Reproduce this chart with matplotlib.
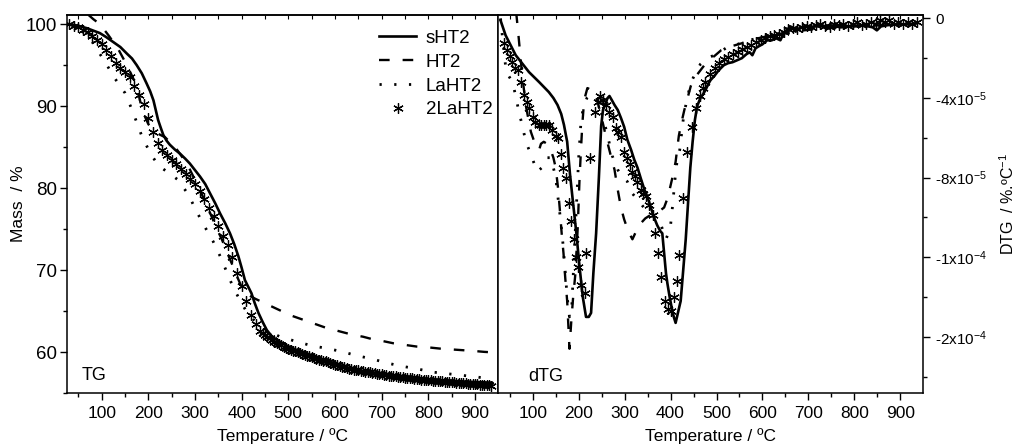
import matplotlib
matplotlib.use("Agg")
import matplotlib.pyplot as plt
from matplotlib.ticker import MultipleLocator, FixedLocator

plt.rcParams["font.family"] = ["Liberation Sans", "DejaVu Sans"]
plt.rcParams["mathtext.fontset"] = "custom"
plt.rcParams["mathtext.rm"] = "Liberation Sans"
plt.rcParams["mathtext.default"] = "regular"

# ---- TG data (mass %) ----
tg_s_t = [29, 40, 55, 68, 82, 96, 110, 125, 140, 154, 165, 175, 186, 196, 204, 211, 216, 221, 227, 232, 239, 246,
          257, 268, 279, 289, 300, 311, 322, 332, 343, 354, 365, 375, 384, 393, 400, 407, 414, 421, 428, 436, 445,
          454, 464, 475, 487, 500, 520, 546, 570, 596, 630, 668, 700, 739, 780, 811, 850, 890, 936]
tg_s_m = [100.0, 99.9, 99.7, 99.5, 99.2, 98.9, 98.4, 97.8, 97.2, 96.4, 95.8, 95.0, 94.0, 92.8, 91.8, 90.7, 89.5, 88.3,
          87.3, 86.5, 85.8, 85.3, 84.7, 84.2, 83.6, 83.0, 82.2, 81.4, 80.5, 79.4, 78.2, 76.9, 75.7, 74.5, 73.2, 71.7,
          70.3, 68.8, 68.0, 67.2, 66.0, 64.8, 63.7, 62.7, 62.0, 61.5, 61.1, 60.7, 60.2, 59.7, 59.2, 58.7, 58.1, 57.6,
          57.3, 57.0, 56.8, 56.6, 56.5, 56.4, 56.3]

tg_ht_t = [30, 50, 70, 82, 96, 115, 135, 154, 164, 175, 185, 193, 200, 210, 222, 236, 250, 260, 275, 288, 300, 315,
           330, 345, 358, 370, 382, 392, 402, 411, 420, 430, 445, 460, 475, 490, 505, 520, 535, 550, 565, 580, 600,
           620, 640, 660, 680, 700, 725, 750, 775, 800, 825, 850, 875, 900, 920, 935]
tg_ht_m = [102.8, 102.0, 101.2, 100.6, 100.0, 98.6, 97.0, 95.0, 93.8, 92.5, 90.0, 88.7, 87.8, 87.1, 86.6, 86.2, 85.4,
           84.8, 83.6, 82.4, 81.0, 79.2, 77.3, 75.3, 73.7, 72.0, 70.4, 69.0, 67.7, 67.2, 66.8, 66.5, 66.1, 65.7, 65.3,
           64.9, 64.5, 64.2, 63.9, 63.6, 63.3, 63.0, 62.7, 62.4, 62.1, 61.9, 61.6, 61.4, 61.1, 60.9, 60.7, 60.6, 60.45,
           60.35, 60.25, 60.15, 60.05, 60.0]

tg_la_t = [30, 45, 60, 80, 107, 128, 150, 164, 176, 187, 205, 221, 240, 264, 286, 304, 321, 339, 354, 368, 382, 396,
           410, 425, 440, 460, 482, 518, 550, 580, 614, 646, 679, 711, 743, 775, 807, 839, 871, 904, 935]
tg_la_m = [100.0, 99.6, 99.0, 97.8, 95.4, 93.4, 91.6, 89.7, 87.9, 86.2, 84.2, 82.8, 82.0, 81.0, 79.2, 77.1, 75.3,
           73.5, 71.7, 69.8, 67.9, 66.4, 65.0, 64.0, 63.3, 62.5, 61.9, 61.3, 60.8, 60.5, 60.1, 59.6, 59.2, 58.7, 58.3,
           58.0, 57.6, 57.4, 57.2, 57.0, 56.7]

# 2LaHT2 points: every 10 ºC up to 430, every 5 ºC after
tg_2la_t = list(range(30, 440, 10)) + list(range(440, 940, 5))
tg_2la_m = [100.0, 99.8, 99.6, 99.3, 99.0, 98.6, 98.1, 97.6, 96.8, 96.1, 95.3, 94.7, 94.2, 93.6, 92.5, 91.4, 90.2,
            88.6, 86.8, 85.5, 84.6, 84.0, 83.4, 82.9, 82.3, 81.7, 81.1, 80.5, 79.6, 78.7, 77.6, 76.6, 75.4, 74.2,
            73.1, 71.6, 69.7, 68.1, 66.3, 64.6, 63.4,
            62.6, 62.35, 62.1, 61.9, 61.7, 61.5, 61.3, 61.15, 61.0, 60.85, 60.7, 60.55, 60.4, 60.3, 60.2, 60.1,
            60.0, 59.9, 59.8, 59.7,
            59.6, 59.5, 59.4, 59.3, 59.2, 59.1, 59.0, 58.95, 58.9, 58.8, 58.7, 58.6, 58.5, 58.4, 58.3, 58.25,
            58.2, 58.1, 58.0, 57.95,
            57.9, 57.85, 57.8, 57.75, 57.7, 57.65, 57.6, 57.55, 57.5, 57.45, 57.4, 57.35, 57.3, 57.25, 57.2,
            57.15, 57.1, 57.08, 57.05, 57.02,
            57.0, 56.95, 56.9, 56.88, 56.85, 56.82, 56.8, 56.75, 56.7, 56.68, 56.65, 56.62, 56.6, 56.58, 56.55,
            56.52, 56.5, 56.48, 56.45, 56.42,
            56.4, 56.38, 56.35, 56.32, 56.3, 56.28, 56.25, 56.22, 56.2, 56.18, 56.15, 56.12, 56.1, 56.08, 56.05,
            56.03, 56.0, 56.0, 55.98, 55.95]

# ---- DTG data (units of 1e-5 %/ºC) ----
dtg_s_t = [30, 41, 52, 63, 75, 92, 114, 135, 145, 154, 162, 168, 175, 181, 187, 195, 202, 209, 216, 222, 227, 232,
           238, 244, 249, 253, 258, 263, 267, 272, 278, 285, 292, 299, 306, 314, 321, 328, 336, 343, 350, 357, 364,
           371, 378, 382, 386, 390, 393, 398, 403, 407, 411, 416, 422, 427, 433, 438, 443, 448, 453, 458, 465, 471,
           476, 482, 487, 495, 505, 516, 525, 535, 545, 555, 565, 572, 578, 585, 592, 600, 610, 620, 630, 639, 645,
           652, 661, 670, 680, 690, 700, 715, 733, 750, 770, 790, 810, 830, 840, 849, 858, 870, 885, 900, 915, 936]
dtg_s_v = [-0.1, -0.85, -1.35, -1.85, -2.2, -2.7, -3.2, -3.7, -4.0, -4.35, -4.8, -5.35, -6.2, -7.8, -9.1, -10.8,
           -12.5, -14.0, -15.0, -15.0, -14.8, -12.8, -10.8, -8.0, -5.4, -4.6, -4.3, -4.0, -3.9, -4.1, -4.35, -4.6,
           -5.0, -5.45, -6.1, -6.6, -7.1, -7.5, -8.1, -8.6, -9.0, -9.5, -10.0, -10.4, -10.7, -10.8, -11.8, -12.8,
           -13.3, -14.0, -14.6, -15.0, -15.3, -14.8, -14.2, -12.8, -11.1, -9.3, -7.5, -6.2, -5.1, -4.4, -4.0, -3.8,
           -3.6, -3.3, -3.1, -2.9, -2.6, -2.35, -2.25, -2.2, -2.1, -2.0, -1.8, -1.7, -1.85, -1.5, -1.4, -1.3, -1.1,
           -1.1, -1.0, -1.1, -0.8, -0.6, -0.4, -0.6, -0.5, -0.4, -0.45, -0.4, -0.4, -0.35, -0.45, -0.4, -0.35, -0.4,
           -0.45, -0.6, -0.4, -0.35, -0.3, -0.3, -0.3, -0.25]

dtg_ht_t = [64, 68, 72, 76, 81, 86, 91, 96, 102, 108, 114, 118, 124, 131, 139, 145, 150, 155, 159, 163, 167, 171,
            175, 180, 184, 188, 193, 198, 202, 205, 208, 212, 219, 228, 237, 250, 260, 270, 278, 285, 292, 299, 308,
            317, 325, 335, 345, 355, 365, 375, 386, 394, 401, 406, 411, 418, 424, 430, 437, 444, 452, 462, 472, 482,
            495, 510, 525, 540, 555, 570, 590, 610, 630, 650, 670, 690, 710, 730, 760, 790, 820, 850, 880, 910, 935]
dtg_ht_v = [0.3, -0.6, -1.6, -2.6, -3.6, -4.5, -5.1, -5.7, -6.1, -6.4, -6.6, -6.3, -6.2, -6.3, -6.6, -7.0, -7.5,
            -8.5, -9.6, -10.8, -11.8, -13.1, -14.2, -16.6, -15.2, -14.0, -12.8, -10.5, -8.0, -6.6, -5.3, -4.1, -3.5,
            -3.6, -3.8, -5.0, -6.0, -6.9, -7.6, -8.6, -9.5, -10.1, -10.7, -11.1, -10.7, -10.3, -10.05, -9.9, -9.8,
            -9.7, -9.5, -9.0, -8.3, -7.8, -7.2, -5.9, -5.2, -4.6, -4.0, -3.4, -3.0, -2.7, -2.4, -2.1, -1.9, -1.6,
            -1.45, -1.35, -1.25, -1.1, -1.0, -0.9, -0.8, -0.75, -0.7, -0.6, -0.55, -0.5, -0.45, -0.4, -0.4, -0.35,
            -0.3, -0.3, -0.25]

dtg_la_t = [30, 34, 41, 48, 56, 63, 70, 78, 85, 92, 100, 110, 120, 130, 140, 150, 160, 165, 170, 175, 180, 185, 190,
            195, 200, 205, 210, 218, 228, 238, 250, 260, 273, 285, 295, 306, 317, 324, 335, 345, 355, 365, 378, 390,
            395, 400, 404, 410, 415, 420, 428, 436, 445, 455, 465, 480, 500, 520, 540, 552, 570, 590, 610, 630, 650,
            680, 720, 760, 790, 820, 850, 880, 910, 935]
dtg_la_v = [0.0, -0.9, -2.4, -2.9, -3.2, -3.9, -4.7, -5.45, -6.2, -6.6, -7.1, -7.7, -7.5, -7.0, -7.0, -8.0, -10.0,
            -11.1, -12.5, -14.0, -15.0, -14.5, -12.0, -9.5, -7.0, -5.2, -4.5, -4.0, -3.8, -4.0, -4.8, -5.6, -6.9,
            -7.6, -8.0, -8.2, -8.8, -9.0, -9.3, -9.6, -9.8, -10.0, -10.3, -11.1, -10.8, -10.4, -9.5, -8.0, -7.0,
            -6.6, -5.0, -4.0, -3.2, -2.7, -2.3, -2.0, -1.8, -1.5, -1.35, -1.25, -1.1, -1.0, -0.9, -0.8, -0.8, -0.6,
            -0.5, -0.4, -0.4, -0.35, -0.3, -0.3, -0.25, -0.25]

dtg_2la_t = [38, 45, 51, 56, 62, 67, 74, 81, 87, 93, 100, 106, 113, 119, 124, 129, 135, 143, 150, 155, 161, 167, 172,
             179, 184, 189, 194, 198, 206, 213, 217, 225, 235, 241, 247, 253, 259, 266, 274, 281, 286, 292, 299, 306,
             312, 317, 323, 328, 335, 341, 346, 353, 361, 367, 372, 380, 388, 395, 401, 408, 413, 419, 427, 436, 446,
             455, 464, 470, 476, 486, 496, 506, 516, 526, 536, 546, 556, 566, 576, 586, 596, 606, 616, 626, 636, 646,
             656, 666, 676, 686, 696, 706, 716, 726, 736, 746, 756, 766, 776, 786, 796, 806, 816, 826, 836, 846, 856,
             866, 876, 886, 896, 906, 916, 926, 936]
dtg_2la_v = [-1.25, -1.6, -1.9, -2.2, -2.5, -2.6, -3.2, -3.85, -4.2, -4.5, -4.95, -5.2, -5.35, -5.35, -5.35, -5.35,
             -5.35, -5.6, -5.9, -6.0, -6.8, -7.5, -8.0, -9.3, -10.2, -11.1, -12.0, -12.5, -13.4, -13.8, -11.8, -7.0,
             -4.7, -4.2, -3.9, -4.1, -4.35, -4.7, -4.95, -5.5, -5.7, -5.95, -6.7, -7.0, -7.3, -7.7, -7.9, -8.2, -8.6,
             -8.8, -8.9, -9.4, -9.9, -10.8, -11.8, -13.0, -14.2, -14.6, -14.7, -14.0, -13.2, -11.9, -9.05, -6.7,
             -5.45, -4.5, -3.9, -3.5, -3.2, -2.8, -2.5, -2.25, -2.05, -1.95, -1.8, -1.7, -1.55, -1.45, -1.35, -1.2,
             -1.1, -1.0, -0.9, -0.85, -0.8, -0.7, -0.55, -0.5, -0.55, -0.45, -0.4, -0.45, -0.35, -0.3, -0.4, -0.45,
             -0.3, -0.35, -0.3, -0.4, -0.3, -0.2, -0.35, -0.3, -0.2, -0.3, -0.1, -0.2, -0.1, -0.3, -0.2, -0.3, -0.2,
             -0.3, -0.2]

dtg_ticks = [0, -4, -8, -12, -16]
dtg_minor = [-2, -6, -10, -14, -18]
dtg_ticklabels = ["0", "-4x10$^{-5}$", "-8x10$^{-5}$", "-1x10$^{-4}$", "-2x10$^{-4}$"]

solid = dict(color="black", lw=1.9, ls="-")
dashed = dict(color="black", lw=1.7, ls=(0, (4.5, 5.5)))
dotted = dict(color="black", lw=2.0, ls=(0, (0.8, 4.5)))
star = dict(color="black", ls="none", marker=(6, 2, 0), ms=7.5, mew=0.9)

fig = plt.figure(figsize=(10.21, 4.47), dpi=100)
ax1 = fig.add_axes([0.0653, 0.1201, 0.4227, 0.8463])
ax2 = fig.add_axes([0.488, 0.1201, 0.4163, 0.8463])

ax1.plot(tg_s_t, tg_s_m, label="sHT2", **solid)
ax1.plot(tg_ht_t, tg_ht_m, label="HT2", **dashed)
ax1.plot(tg_la_t, tg_la_m, label="LaHT2", **dotted)
ax1.plot(tg_2la_t, tg_2la_m, label="2LaHT2", **star)

ax2.plot(dtg_s_t, dtg_s_v, **solid)
ax2.plot(dtg_ht_t, dtg_ht_v, **dashed)
ax2.plot(dtg_la_t, dtg_la_v, **dotted)
ax2.plot(dtg_2la_t, dtg_2la_v, **star)

for ax in (ax1, ax2):
    ax.set_xlim(25, 950)
    ax.xaxis.set_major_locator(FixedLocator(range(100, 1000, 100)))
    ax.xaxis.set_minor_locator(FixedLocator(range(50, 950, 100)))
    ax.tick_params(axis="x", which="major", direction="out", length=5, width=1, labelsize=12.5, pad=4, top=False)
    ax.tick_params(axis="x", which="minor", direction="out", length=3, width=1, top=False)
    ax.set_xlabel("Temperature / ºC", fontsize=12.5, labelpad=5)
    for sp in ax.spines.values():
        sp.set_linewidth(1.1)
    top = ax.secondary_xaxis("top")
    top.xaxis.set_major_locator(FixedLocator(range(50, 1000, 50)))
    top.tick_params(axis="x", direction="in", length=3, width=0.8, labeltop=False)
    top.spines["top"].set_linewidth(1.1)

ax1.set_ylim(55.0, 101.1)
ax1.yaxis.set_major_locator(MultipleLocator(10))
ax1.yaxis.set_minor_locator(MultipleLocator(5))
ax1.tick_params(axis="y", which="major", direction="out", length=5, width=1, labelsize=13.5, pad=2)
ax1.tick_params(axis="y", which="minor", direction="out", length=3, width=1)
ax1.set_ylabel("Mass  / %", fontsize=12.5, labelpad=0)
ax1.text(0.035, 0.048, "TG", transform=ax1.transAxes, fontsize=13, va="center", ha="left")

ax2.set_ylim(-18.84, 0.17)
ax2.yaxis.tick_right()
ax2.yaxis.set_major_locator(FixedLocator(dtg_ticks))
ax2.yaxis.set_minor_locator(FixedLocator(dtg_minor))
ax2.set_yticklabels(dtg_ticklabels)
ax2.tick_params(axis="y", which="major", direction="out", length=5, width=1, labelsize=11, left=False)
ax2.tick_params(axis="y", which="minor", direction="out", length=3, width=1, left=False)
ax2.yaxis.set_label_position("right")
ax2.set_ylabel("DTG  / %.ºC$^{-1}$", fontsize=11.5, labelpad=8)
ax2.text(0.07, 0.045, "dTG", transform=ax2.transAxes, fontsize=13, va="center", ha="left")

ax1.legend(loc="upper right", bbox_to_anchor=(1.0, 0.976), frameon=False, fontsize=13.5, numpoints=1,
           handlelength=2.0, handletextpad=0.5, labelspacing=0.36, borderaxespad=0.0, borderpad=0.3)

fig.savefig("out.png", dpi=100)
